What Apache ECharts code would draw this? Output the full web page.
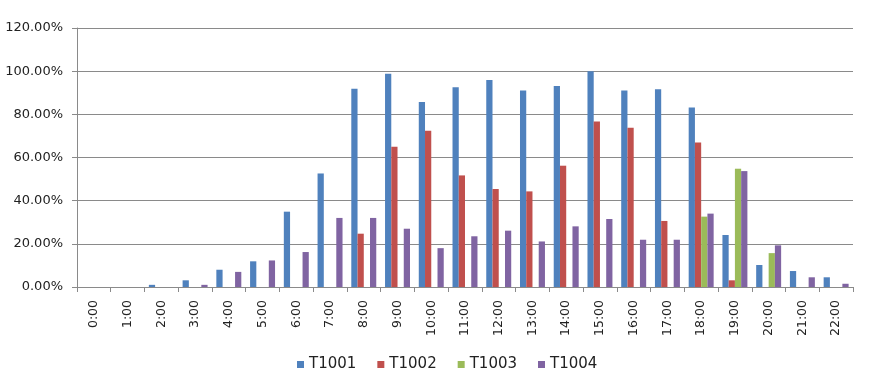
<!DOCTYPE html>
<html>
<head>
<meta charset="utf-8">
<script src="https://cdn.jsdelivr.net/npm/echarts@6/dist/echarts.min.js"></script>
<style>
  html, body { margin: 0; padding: 0; background: #fff; }
  #main { width: 881px; height: 376px; }
</style>
</head>
<body>
<div id="main"></div>
<script>
// 时段
var hours = ['0:00', '1:00', '2:00', '3:00', '4:00', '5:00', '6:00', '7:00', '8:00', '9:00', '10:00', '11:00',
  '12:00', '13:00', '14:00', '15:00', '16:00', '17:00', '18:00', '19:00', '20:00', '21:00', '22:00'];
var seriesNames = ['T1001', 'T1002', 'T1003', 'T1004'];
var colors = ['#4F81BD', '#C0504D', '#9BBB59', '#8064A2'];

// 各航站楼占比 (%)
var t1001 = [0, 0, 1, 3.1, 8, 11.9, 34.9, 52.6, 91.9, 98.8, 85.7, 92.5, 95.9, 91.1, 93.1, 100, 91.1, 91.6, 83.2, 24.1, 10.2, 7.4, 4.5];
var t1002 = [0, 0, 0, 0, 0, 0, 0, 0, 24.7, 65, 72.4, 51.7, 45.4, 44.3, 56.2, 76.7, 73.8, 30.6, 67, 3.1, 0, 0, 0];
var t1003 = [0, 0, 0, 0, 0, 0, 0, 0, 0, 0, 0, 0, 0, 0, 0, 0, 0, 0, 32.6, 54.8, 15.7, 0, 0];
var t1004 = [0, 0, 0, 1, 7, 12.3, 16.2, 32, 32, 27, 18, 23.5, 26.1, 21.1, 28.1, 31.5, 21.9, 21.9, 34, 53.7, 19.3, 4.5, 1.5];

var allData = [t1001, t1002, t1003, t1004];
var lineColor = '#8a8a8a';
var textColor = '#222';

var myChart = echarts.init(document.getElementById('main'));

var series = seriesNames.map(function (name, i) {
  return {
    name: name,
    type: 'bar',
    data: allData[i],
    barGap: '0%',
    barCategoryGap: '26%',
    itemStyle: { color: colors[i] }
  };
});

var option = {
  animation: false,
  backgroundColor: '#fff',
  color: colors,
  grid: { left: 77, right: 28, top: 28, bottom: 89 },
  legend: {
    data: seriesNames,
    left: 292,
    top: 352,
    icon: 'rect',
    itemWidth: 7,
    itemHeight: 7,
    itemGap: 21,
    textStyle: { fontFamily: 'DejaVu Sans', fontSize: 15, color: textColor }
  },
  xAxis: {
    type: 'category',
    data: hours,
    boundaryGap: true,
    axisLine: { lineStyle: { color: lineColor, width: 1 } },
    axisTick: { show: true, length: 5, lineStyle: { color: lineColor } },
    axisLabel: {
      rotate: 90,
      margin: 13,
      interval: 0,
      fontFamily: 'DejaVu Sans',
      fontSize: 12.5,
      color: textColor
    }
  },
  yAxis: {
    type: 'value',
    min: 0,
    max: 120,
    interval: 20,
    axisLine: { show: true, lineStyle: { color: lineColor, width: 1 } },
    axisTick: { show: true, length: 5, lineStyle: { color: lineColor } },
    splitLine: { lineStyle: { color: lineColor, width: 1 } },
    axisLabel: {
      margin: 14,
      fontFamily: 'DejaVu Sans',
      fontSize: 13,
      color: textColor,
      formatter: function (v) { return v.toFixed(2) + '%'; }
    }
  },
  series: series
};

myChart.setOption(option);
</script>
</body>
</html>
